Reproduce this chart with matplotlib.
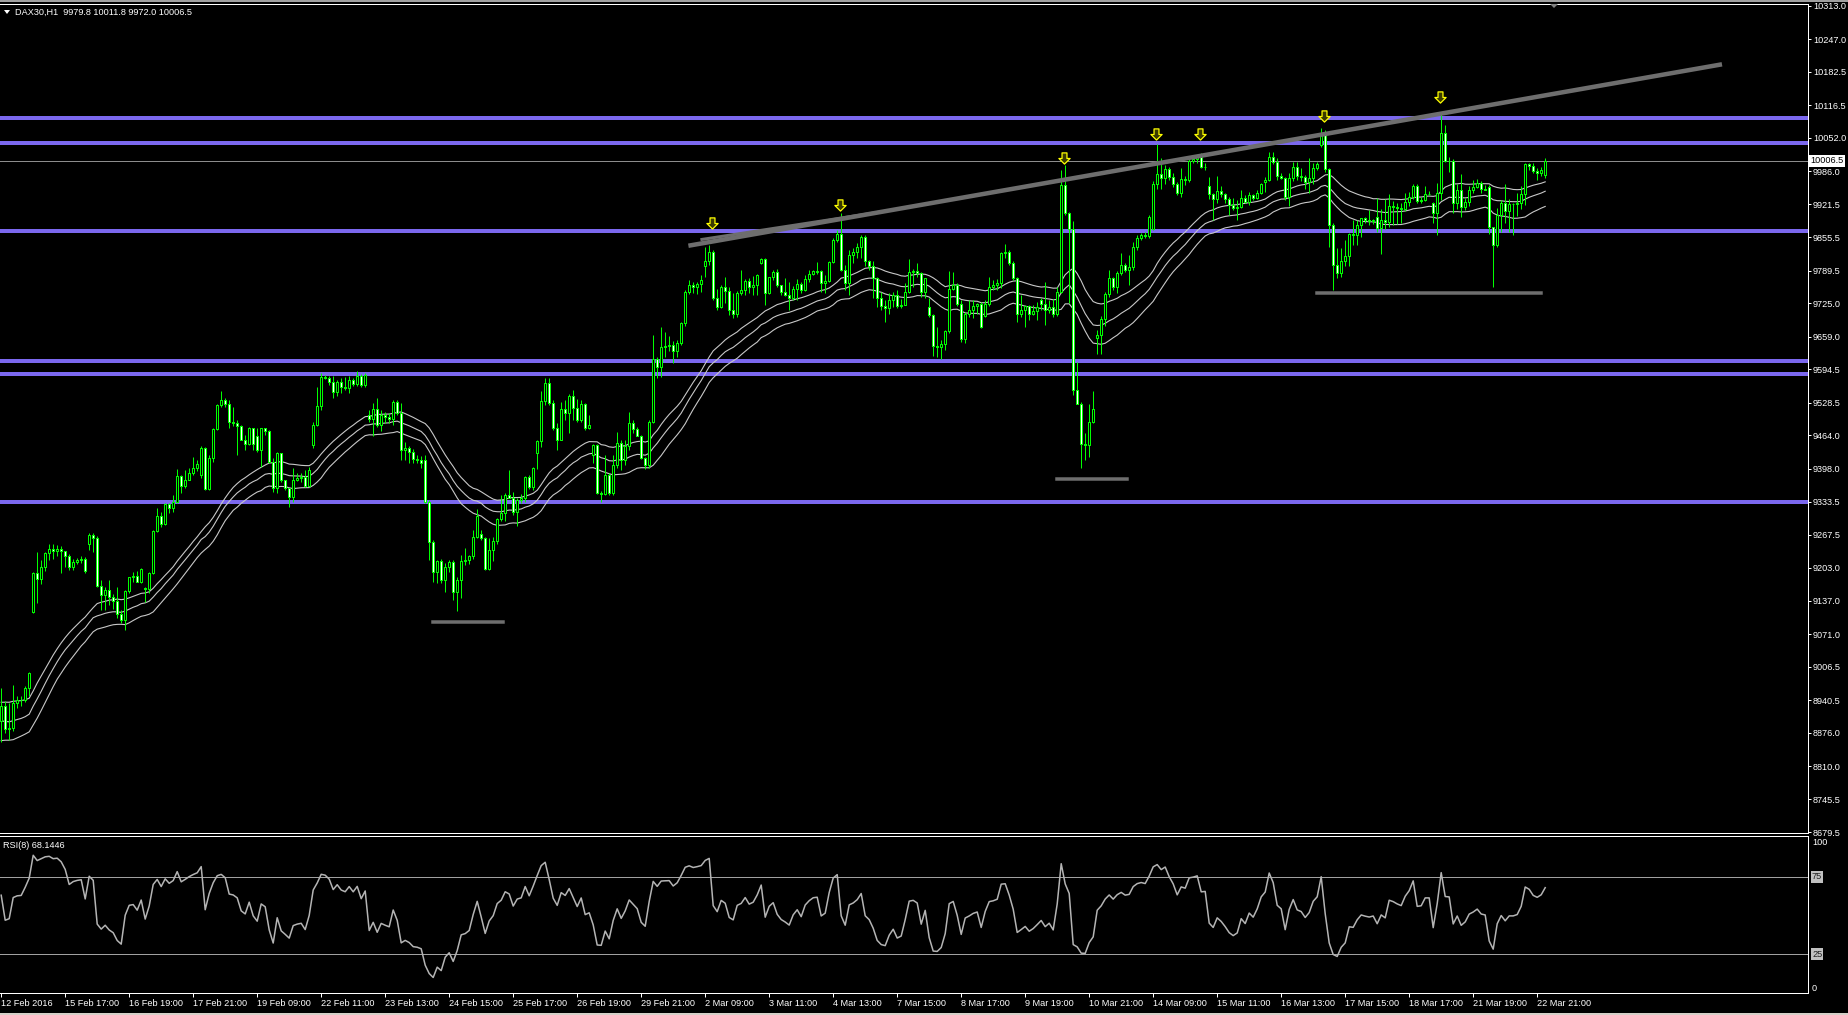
import numpy as np
import matplotlib
matplotlib.use("Agg")
import matplotlib.pyplot as plt
from matplotlib.patches import Rectangle, Polygon
from matplotlib.collections import PatchCollection, LineCollection
from matplotlib.path import Path
from matplotlib.transforms import blended_transform_factory

plt.rcParams['font.family'] = ['Liberation Sans', 'DejaVu Sans']

# ---- data (DAX30 H1, one row per trading day) ----
symbol = "DAX30,H1"
header_ohlc = "9979.8 10011.8 9972.0 10006.5"
rsi_header = "RSI(8) 68.1446"

opens = [
    8900, 8929, 8883, 8886, 8936, 8941, 8942, 8964,
    9116, 9192, 9180, 9205, 9232, 9239, 9235, 9240, 9235, 9225, 9204, 9214, 9218, 9220,
    9250, 9268, 9262, 9166, 9149, 9158, 9144, 9136, 9112, 9100, 9157, 9184, 9186, 9175,
    9162, 9160, 9193, 9276, 9304, 9289, 9329, 9320, 9333, 9383, 9364, 9376, 9389, 9399,
    9386, 9439, 9358, 9419, 9476, 9524, 9534, 9527, 9491, 9489, 9483, 9455, 9448, 9478,
    9463, 9435, 9478, 9472, 9412, 9360, 9429, 9376, 9360, 9343, 9376, 9380, 9382, 9364,
    9445, 9485, 9522, 9580, 9578, 9570, 9549, 9570, 9560, 9557, 9574, 9566, 9582, 9564,
    9505, 9497, 9516, 9485, 9505, 9500, 9496, 9531, 9508, 9435, 9440, 9432, 9417, 9415,
    9415, 9333, 9254, 9195, 9215, 9178, 9205, 9214, 9155, 9178, 9215, 9218, 9225, 9264,
    9270, 9262, 9201, 9238, 9255, 9298, 9311, 9346, 9341, 9313, 9336, 9340, 9381, 9363,
    9429, 9454, 9532, 9568, 9529, 9478, 9456, 9516, 9508, 9542, 9519, 9494, 9527, 9478,
    9425, 9445, 9350, 9348, 9386, 9350, 9406, 9450, 9415, 9443, 9489, 9476, 9463, 9419,
    9405, 9491, 9616, 9600, 9639, 9641, 9642, 9630, 9646, 9687, 9748, 9761, 9758, 9764,
    9799, 9809, 9827, 9735, 9718, 9757, 9750, 9712, 9705, 9746, 9752, 9770, 9757, 9762,
    9804, 9812, 9746, 9777, 9788, 9761, 9748, 9742, 9735, 9754, 9764, 9752, 9774, 9783,
    9788, 9790, 9766, 9770, 9807, 9850, 9863, 9791, 9766, 9821, 9827, 9837, 9856, 9808,
    9798, 9775, 9735, 9719, 9715, 9732, 9742, 9719, 9722, 9748, 9788, 9790, 9786, 9748,
    9718, 9702, 9640, 9638, 9645, 9671, 9753, 9761, 9724, 9654, 9705, 9712, 9720, 9724,
    9700, 9724, 9758, 9761, 9766, 9824, 9826, 9805, 9775, 9705, 9712, 9719, 9705, 9710,
    9732, 9724, 9712, 9717, 9705, 9748, 9959, 9903, 9873, 9554, 9527, 9448, 9445, 9491,
    9657, 9663, 9694, 9744, 9775, 9757, 9786, 9801, 9792, 9796, 9837, 9854, 9860, 9858,
    9873, 9961, 9981, 9972, 9990, 9974, 9962, 9943, 9970, 9968, 10007, 10010, 10015, 9994,
    9957, 9941, 9931, 9948, 9941, 9931, 9919, 9913, 9916, 9933, 9926, 9939, 9934, 9944,
    9964, 9969, 10015, 10005, 9977, 9972, 9936, 9972, 9995, 9977, 9974, 9964, 9972, 9992,
    10038, 10058, 9990, 9880, 9801, 9785, 9808, 9819, 9862, 9860, 9880, 9893, 9890, 9888,
    9895, 9875, 9890, 9885, 9918, 9916, 9913, 9911, 9926, 9936, 9957, 9928, 9929, 9942,
    9923, 9903, 9943, 10061, 10007, 10006, 9924, 9950, 9916, 9926, 9949, 9955, 9963, 9952,
    9956, 9877, 9841, 9900, 9924, 9908, 9921, 9921, 9924, 9942, 10000, 9996, 9986, 9983,
    9979.8,
]
highs = [
    8964, 8940, 8935, 8971, 8950, 8950, 8968, 8997,
    9195, 9234, 9218, 9234, 9250, 9250, 9247, 9245, 9236, 9230, 9220, 9222, 9226, 9224,
    9271, 9272, 9265, 9178, 9165, 9178, 9150, 9165, 9120, 9158, 9185, 9195, 9197, 9202,
    9165, 9194, 9277, 9320, 9313, 9330, 9331, 9346, 9397, 9386, 9396, 9399, 9422, 9415,
    9443, 9441, 9425, 9478, 9527, 9551, 9538, 9535, 9521, 9494, 9485, 9465, 9481, 9478,
    9478, 9478, 9478, 9475, 9419, 9432, 9430, 9376, 9360, 9399, 9389, 9389, 9396, 9402,
    9490, 9560, 9587, 9583, 9582, 9581, 9574, 9577, 9580, 9581, 9577, 9592, 9585, 9587,
    9514, 9528, 9539, 9514, 9511, 9508, 9534, 9534, 9529, 9452, 9443, 9438, 9425, 9423,
    9425, 9336, 9257, 9218, 9220, 9211, 9218, 9218, 9185, 9228, 9241, 9228, 9277, 9318,
    9277, 9264, 9261, 9264, 9300, 9346, 9350, 9396, 9352, 9340, 9349, 9384, 9386, 9402,
    9455, 9551, 9577, 9577, 9534, 9489, 9531, 9534, 9545, 9553, 9537, 9534, 9529, 9504,
    9447, 9448, 9354, 9425, 9389, 9425, 9471, 9455, 9455, 9511, 9494, 9481, 9465, 9422,
    9494, 9662, 9619, 9679, 9669, 9660, 9650, 9653, 9689, 9752, 9771, 9768, 9768, 9781,
    9837, 9840, 9830, 9754, 9761, 9777, 9757, 9746, 9750, 9791, 9773, 9775, 9779, 9783,
    9814, 9815, 9778, 9791, 9794, 9762, 9775, 9768, 9759, 9774, 9768, 9781, 9791, 9791,
    9806, 9792, 9781, 9809, 9854, 9870, 9903, 9801, 9831, 9834, 9844, 9860, 9860, 9811,
    9808, 9778, 9748, 9732, 9745, 9748, 9751, 9733, 9766, 9812, 9794, 9804, 9788, 9775,
    9735, 9705, 9679, 9652, 9672, 9790, 9787, 9765, 9732, 9709, 9732, 9732, 9725, 9728,
    9731, 9778, 9771, 9774, 9827, 9842, 9830, 9809, 9778, 9741, 9722, 9722, 9722, 9728,
    9735, 9768, 9732, 9733, 9758, 9988, 9999, 9906, 9887, 9610, 9531, 9468, 9527, 9551,
    9672, 9700, 9748, 9792, 9778, 9790, 9825, 9804, 9821, 9847, 9860, 9865, 9866, 9900,
    9966, 10041, 10012, 9999, 9995, 9983, 9965, 9992, 9976, 10012, 10015, 10018, 10022, 10003,
    9975, 9944, 9977, 9957, 9944, 9936, 9933, 9929, 9950, 9939, 9946, 9942, 9949, 9963,
    9975, 10025, 10025, 10012, 9982, 9975, 9982, 10005, 10005, 9992, 9978, 10012, 10002, 10005,
    10071, 10068, 9992, 9883, 9834, 9834, 9850, 9864, 9890, 9890, 9893, 9895, 9910, 9892,
    9933, 9911, 9931, 9941, 9928, 9923, 9923, 9944, 9946, 9962, 9962, 9936, 9957, 9948,
    9926, 9963, 10101, 10078, 10015, 10010, 9962, 9981, 9933, 9957, 9969, 9970, 9966, 9959,
    9959, 9877, 9913, 9929, 9961, 9931, 9923, 9943, 9957, 10002, 10002, 10002, 9992, 9995,
    10011.8,
]
lows = [
    8859, 8875, 8862, 8880, 8925, 8930, 8938, 8950,
    9113, 9132, 9170, 9197, 9218, 9220, 9225, 9192, 9205, 9198, 9198, 9210, 9212, 9192,
    9237, 9234, 9165, 9119, 9120, 9129, 9122, 9103, 9093, 9080, 9152, 9175, 9174, 9172,
    9135, 9152, 9190, 9274, 9284, 9287, 9310, 9313, 9330, 9350, 9360, 9376, 9386, 9393,
    9380, 9356, 9356, 9412, 9474, 9521, 9521, 9478, 9482, 9425, 9455, 9435, 9445, 9435,
    9432, 9402, 9465, 9409, 9353, 9350, 9373, 9356, 9323, 9333, 9375, 9373, 9363, 9363,
    9439, 9482, 9514, 9575, 9564, 9539, 9542, 9547, 9554, 9547, 9561, 9562, 9560, 9559,
    9491, 9462, 9481, 9472, 9488, 9488, 9485, 9505, 9416, 9416, 9409, 9409, 9409, 9399,
    9330, 9218, 9175, 9172, 9172, 9155, 9195, 9139, 9118, 9142, 9208, 9210, 9220, 9262,
    9258, 9199, 9199, 9215, 9250, 9294, 9294, 9340, 9307, 9285, 9330, 9333, 9359, 9356,
    9397, 9442, 9524, 9524, 9475, 9435, 9455, 9495, 9468, 9494, 9490, 9490, 9474, 9476,
    9409, 9348, 9333, 9346, 9346, 9347, 9400, 9396, 9405, 9435, 9468, 9463, 9417, 9397,
    9400, 9488, 9577, 9580, 9620, 9630, 9608, 9620, 9643, 9680, 9743, 9745, 9744, 9748,
    9778, 9800, 9732, 9712, 9715, 9725, 9702, 9696, 9699, 9741, 9742, 9745, 9742, 9742,
    9803, 9722, 9744, 9771, 9758, 9742, 9740, 9712, 9732, 9732, 9746, 9749, 9768, 9781,
    9783, 9748, 9746, 9768, 9804, 9847, 9790, 9751, 9742, 9804, 9815, 9815, 9798, 9791,
    9735, 9718, 9712, 9689, 9705, 9718, 9715, 9715, 9722, 9745, 9758, 9778, 9738, 9735,
    9699, 9621, 9620, 9616, 9633, 9666, 9752, 9719, 9649, 9647, 9699, 9696, 9705, 9676,
    9699, 9719, 9751, 9751, 9755, 9815, 9801, 9771, 9689, 9699, 9679, 9692, 9702, 9692,
    9712, 9682, 9706, 9699, 9700, 9745, 9900, 9725, 9544, 9527, 9399, 9415, 9422, 9488,
    9626, 9626, 9680, 9738, 9751, 9746, 9781, 9788, 9761, 9791, 9830, 9850, 9854, 9854,
    9870, 9952, 9952, 9962, 9969, 9956, 9939, 9936, 9960, 9965, 10002, 10002, 9992, 9989,
    9931, 9890, 9924, 9936, 9923, 9900, 9910, 9890, 9913, 9923, 9919, 9929, 9932, 9942,
    9946, 9966, 10000, 9969, 9970, 9929, 9917, 9966, 9969, 9966, 9952, 9943, 9962, 9988,
    10035, 9985, 9837, 9752, 9775, 9777, 9798, 9798, 9841, 9841, 9857, 9883, 9880, 9882,
    9867, 9823, 9873, 9877, 9880, 9882, 9883, 9908, 9918, 9932, 9924, 9924, 9928, 9939,
    9883, 9860, 9930, 10005, 9985, 9903, 9911, 9895, 9910, 9918, 9944, 9953, 9944, 9949,
    9862, 9758, 9837, 9867, 9883, 9867, 9860, 9897, 9911, 9920, 9989, 9982, 9969, 9977,
    9972.0,
]
closes = [
    8929, 8883, 8886, 8936, 8941, 8942, 8964, 8995,
    9192, 9180, 9205, 9232, 9239, 9235, 9240, 9235, 9225, 9204, 9214, 9218, 9220, 9197,
    9268, 9262, 9166, 9149, 9158, 9144, 9136, 9112, 9100, 9157, 9184, 9186, 9175, 9200,
    9160, 9193, 9276, 9304, 9289, 9329, 9320, 9333, 9383, 9364, 9376, 9389, 9399, 9407,
    9439, 9358, 9419, 9476, 9524, 9534, 9527, 9491, 9489, 9483, 9455, 9448, 9478, 9448,
    9435, 9478, 9472, 9412, 9360, 9429, 9376, 9360, 9343, 9376, 9380, 9382, 9364, 9396,
    9485, 9522, 9580, 9578, 9570, 9549, 9570, 9560, 9557, 9574, 9566, 9582, 9564, 9584,
    9497, 9516, 9485, 9505, 9500, 9496, 9531, 9508, 9435, 9440, 9432, 9417, 9415, 9410,
    9333, 9254, 9195, 9215, 9178, 9205, 9214, 9155, 9178, 9215, 9218, 9225, 9264, 9305,
    9262, 9201, 9238, 9255, 9298, 9311, 9346, 9341, 9313, 9336, 9340, 9381, 9363, 9400,
    9454, 9532, 9568, 9529, 9478, 9456, 9516, 9508, 9542, 9519, 9494, 9527, 9478, 9484,
    9445, 9350, 9348, 9386, 9350, 9406, 9450, 9415, 9443, 9489, 9476, 9463, 9419, 9405,
    9491, 9616, 9600, 9639, 9641, 9642, 9630, 9646, 9687, 9748, 9761, 9758, 9764, 9771,
    9809, 9827, 9735, 9718, 9757, 9750, 9712, 9705, 9746, 9752, 9770, 9757, 9762, 9781,
    9812, 9746, 9777, 9788, 9761, 9748, 9742, 9735, 9754, 9764, 9752, 9774, 9783, 9789,
    9790, 9766, 9770, 9807, 9850, 9863, 9791, 9766, 9821, 9827, 9837, 9856, 9808, 9798,
    9775, 9735, 9719, 9715, 9732, 9742, 9719, 9722, 9748, 9788, 9790, 9786, 9748, 9775,
    9702, 9640, 9638, 9645, 9671, 9753, 9761, 9724, 9654, 9705, 9712, 9720, 9724, 9679,
    9724, 9758, 9761, 9766, 9824, 9826, 9805, 9775, 9705, 9712, 9719, 9705, 9710, 9717,
    9724, 9712, 9717, 9705, 9748, 9959, 9903, 9873, 9554, 9527, 9448, 9445, 9491, 9516,
    9663, 9694, 9744, 9775, 9757, 9786, 9801, 9792, 9796, 9837, 9854, 9860, 9858, 9896,
    9961, 9981, 9972, 9990, 9974, 9962, 9943, 9970, 9968, 10007, 10010, 10015, 9994, 9995,
    9941, 9931, 9948, 9941, 9931, 9919, 9913, 9916, 9933, 9926, 9939, 9934, 9944, 9961,
    9969, 10015, 10005, 9977, 9972, 9936, 9972, 9995, 9977, 9974, 9964, 9972, 9992, 10001,
    10058, 9990, 9880, 9801, 9785, 9808, 9819, 9862, 9860, 9880, 9893, 9890, 9888, 9890,
    9875, 9890, 9885, 9918, 9916, 9913, 9911, 9926, 9936, 9957, 9928, 9929, 9942, 9942,
    9903, 9943, 10061, 10007, 10006, 9924, 9950, 9916, 9926, 9949, 9955, 9963, 9952, 9950,
    9877, 9841, 9900, 9924, 9908, 9921, 9921, 9924, 9942, 10000, 9996, 9986, 9983, 9989,
    10006.5,
]

# horizontal levels, trend line, support marks and signal arrows
level_prices = [10092.0, 10041.5, 9869.0, 9610.5, 9586.0, 9333.5]
last_price = 10006.5
trend_bars = [171.8, 430.2]
trend_prices = [9839.0, 10197.6]
trend2_bars = [174.8, 220.0]
trend2_prices = [9851.0, 9906.0]
support_bars = [(108.0, 125.4), (264.0, 281.4), (329.0, 385.0)]
support_prices = [9095.0, 9378.0, 9745.0]
arrow_bars = [177.7, 209.6, 265.7, 288.7, 299.75, 330.7, 359.7]
arrow_prices = [9884.0, 9919.5, 10013.0, 10059.0, 10060.5, 10095.0, 10132.0]

price_ticks = [10313.0, 10247.0, 10182.5, 10116.5, 10052.0, 9986.0, 9921.5, 9855.5,
               9789.5, 9725.0, 9659.0, 9594.5, 9528.5, 9464.0, 9398.0, 9333.5, 9267.5,
               9203.0, 9137.0, 9071.0, 9006.5, 8940.5, 8876.0, 8810.0, 8745.5, 8679.5]
date_labels = ["12 Feb 2016", "15 Feb 17:00", "16 Feb 19:00", "17 Feb 21:00", "19 Feb 09:00",
               "22 Feb 11:00", "23 Feb 13:00", "24 Feb 15:00", "25 Feb 17:00", "26 Feb 19:00",
               "29 Feb 21:00", "2 Mar 09:00", "3 Mar 11:00", "4 Mar 13:00", "7 Mar 15:00",
               "8 Mar 17:00", "9 Mar 19:00", "10 Mar 21:00", "14 Mar 09:00", "15 Mar 11:00",
               "16 Mar 13:00", "17 Mar 15:00", "18 Mar 17:00", "21 Mar 19:00", "22 Mar 21:00"]
date_bars = [0, 16, 32, 48, 64, 80, 96, 112, 128, 144, 160, 176, 192, 208, 224,
             240, 256, 272, 288, 304, 320, 336, 352, 368, 384]

# indicator settings and the starting values seen at the left edge
wave_period = 34
wave_start = [8935.0, 8898.0, 8861.0]   # EMA of high / close / low at the first bar
rsi_period = 8
rsi_start_gain, rsi_start_loss = 12.0, 7.0

W, H = 1849, 1015
PX = 72.0 / 100  # one pixel in points
FS = 6.6
LIME = '#00FF00'


def ema(values, period, start):
    k = 2.0 / (period + 1)
    out, e = [], start
    for v in values:
        e = e + k * (v - e)
        out.append(e)
    return np.array(out)


def rsi(values, period, g0, l0):
    out, ag, al = [], g0, l0
    prev = None
    for v in values:
        if prev is not None:
            d = v - prev
            ag = (ag * (period - 1) + max(d, 0)) / period
            al = (al * (period - 1) + max(-d, 0)) / period
        out.append(100 - 100 / (1 + ag / al))
        prev = v
    return np.array(out)


n = len(closes)
x = np.arange(n)

fig = plt.figure(figsize=(W / 100, H / 100), dpi=100, facecolor='black')
ax = fig.add_axes([0, (H - 833) / H, 1808 / W, (833 - 4) / H], facecolor='black')
ax_rsi = fig.add_axes([0, (H - 993) / H, 1808 / W, (993 - 836) / H], facecolor='black')

for a in (ax, ax_rsi):
    for side in ('top', 'bottom', 'right'):
        a.spines[side].set_color('white')
        a.spines[side].set_linewidth(PX)
    a.spines['left'].set_visible(False)
    a.set_xlim(-0.3, 451.7)

# window frame strips
fig.patches.append(Rectangle((0, 1 - 2 / H), 1, 2 / H, transform=fig.transFigure,
                             facecolor='#A0A0A0', edgecolor='none'))
fig.patches.append(Rectangle((0, 0), 1, 2 / H, transform=fig.transFigure,
                             facecolor='#D4D0C8', edgecolor='none'))

# ---- main price panel ----
ax.set_ylim(8678.3, 10316.8)

for p in level_prices:
    ax.axhline(p, color='#7B68EE', lw=4 * PX, zorder=1)
ax.axhline(last_price, color='#8C8C8C', lw=PX, zorder=1)

wave_h = ema(highs, wave_period, wave_start[0])
wave_c = ema(closes, wave_period, wave_start[1])
wave_l = ema(lows, wave_period, wave_start[2])
for w in (wave_h, wave_c, wave_l):
    ax.plot(x, w, color='#C8C8C8', lw=0.8, zorder=2)

wicks = [[(i, lows[i]), (i, highs[i])] for i in range(n)]
ax.add_collection(LineCollection(wicks, colors=LIME, linewidths=PX, zorder=3))
bodies, faces = [], []
for i in range(n):
    lo, hi = min(opens[i], closes[i]), max(opens[i], closes[i])
    bodies.append(Rectangle((i - 0.25, lo), 0.5, hi - lo))
    faces.append('black' if closes[i] >= opens[i] else 'white')
ax.add_collection(PatchCollection(bodies, facecolors=faces, edgecolors=LIME,
                                  linewidths=PX, zorder=4))

ax.plot(trend_bars, trend_prices, color='#6E6E6E', lw=4.5 * PX, solid_capstyle='butt', zorder=5)
ax.plot(trend2_bars, trend2_prices, color='#6E6E6E', lw=3 * PX, solid_capstyle='butt', zorder=5)
for (b0, b1), p in zip(support_bars, support_prices):
    ax.plot([b0, b1], [p, p], color='#6E6E6E', lw=3.5 * PX, zorder=5)

arrow = Path([(-0.22, 0.5), (0.22, 0.5), (0.22, 0.0), (0.5, 0.0), (0.0, -0.5),
              (-0.5, 0.0), (-0.22, 0.0), (-0.22, 0.5)], closed=True)
ax.scatter(arrow_bars, arrow_prices, marker=arrow, s=65, facecolor='#3A3A00',
           edgecolor='#FFFF00', linewidths=0.9, zorder=6)

ax.set_xticks([])
ax.yaxis.tick_right()
ax.set_yticks(price_ticks)
ax.set_yticklabels([f"{v:.1f}" for v in price_ticks])
ax.tick_params(axis='y', colors='white', length=3 * PX, width=PX, pad=2 * PX, labelsize=FS)

tr = blended_transform_factory(fig.transFigure, ax.transData)
ax.text(1810 / W, last_price, f"{last_price:.1f}", transform=tr, ha='left', va='center',
        fontsize=FS, color='black', zorder=10,
        bbox=dict(boxstyle='square,pad=0.2', fc='white', ec='none'))

fig.text(15 / W, 1 - 12 / H, f"{symbol}  {header_ohlc}", ha='left', va='center',
         fontsize=FS, color='white')
fig.patches.append(Polygon([(4 / W, 1 - 10 / H), (10 / W, 1 - 10 / H), (7 / W, 1 - 14 / H)],
                           closed=True, transform=fig.transFigure, facecolor='white', edgecolor='none'))
fig.patches.append(Polygon([(1550 / W, 1 - 4 / H), (1558 / W, 1 - 4 / H), (1554 / W, 1 - 8 / H)],
                           closed=True, transform=fig.transFigure, facecolor='#808080', edgecolor='none'))

# ---- RSI panel ----
rsi_vals = rsi(closes, rsi_period, rsi_start_gain, rsi_start_loss)
ax_rsi.set_ylim(-0.3, 101.6)
ax_rsi.axhline(75, color='#A0A0A0', lw=PX)
ax_rsi.axhline(25, color='#A0A0A0', lw=PX)
ax_rsi.plot(x, rsi_vals, color='#B4B4B4', lw=1.1)
fig.text(3 / W, 1 - 845 / H, rsi_header, ha='left', va='center', fontsize=FS, color='white')
ax_rsi.set_yticks([])
tr2 = blended_transform_factory(fig.transFigure, ax_rsi.transData)
ax_rsi.text(1812 / W, 100, "100", transform=tr2, ha='left', va='top', fontsize=FS, color='white')
ax_rsi.text(1812 / W, 0, "0", transform=tr2, ha='left', va='bottom', fontsize=FS, color='white')
for lv in (75, 25):
    ax_rsi.text(1812 / W, lv, str(lv), transform=tr2, ha='left', va='center', fontsize=FS,
                color='#202020', bbox=dict(boxstyle='square,pad=0.12', fc='#C0C0C0', ec='none'))

ax_rsi.set_xticks(date_bars)
ax_rsi.set_xticklabels(date_labels)
for lab in ax_rsi.get_xticklabels():
    lab.set_horizontalalignment('left')
ax_rsi.tick_params(axis='x', colors='white', length=4 * PX, width=PX, pad=1.5 * PX, labelsize=FS)

fig.savefig('out.png', dpi=100, facecolor='black')
